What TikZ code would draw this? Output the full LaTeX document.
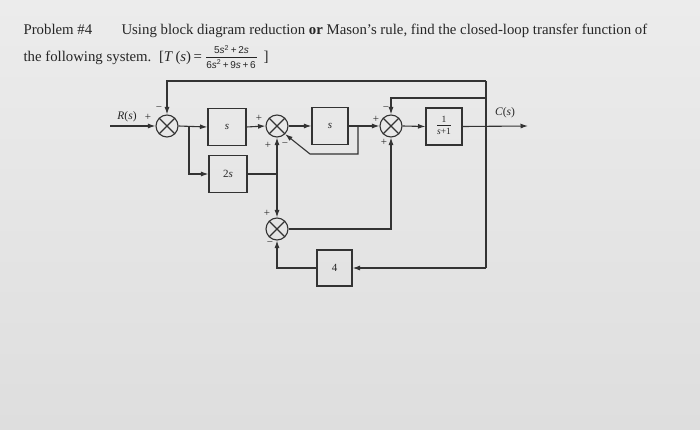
\documentclass[tikz,border=0pt]{standalone}
\usepackage{fontspec}
\setmainfont{Liberation Serif}
\newfontfamily\fracfont{Liberation Sans}
\usetikzlibrary{arrows.meta}
\definecolor{ink}{HTML}{333333}
\definecolor{txt}{HTML}{262626}
\begin{document}
\begin{tikzpicture}[x=1pt,y=-1pt,
  line width=1.1pt, draw=ink,
  arr/.style={-{Latex[length=7.5pt,width=5pt]}},
  sumnode/.style={circle, draw, line width=1.1pt, minimum size=22pt, inner sep=0pt,
    path picture={\draw[line width=1.1pt,ink] (path picture bounding box.north west)--(path picture bounding box.south east)
      (path picture bounding box.north east)--(path picture bounding box.south west);}},
  blk/.style={draw, line width=1.1pt, minimum width=38pt, minimum height=37pt, inner sep=0pt,
    font=\fontsize{11}{12}\selectfont, text=txt},
  sgn/.style={font=\fontsize{11}{11}\selectfont, inner sep=0pt, text=txt},
  lbl/.style={font=\fontsize{11.5}{12}\selectfont, inner sep=0pt, text=txt},
  title/.style={font=\fontsize{14.8}{16}\selectfont, inner sep=0pt, anchor=base west, text=txt},
  frc/.style={font=\fracfont\fontsize{10}{10}\selectfont, inner sep=0pt, text=txt}]
\shade[top color={rgb,255:red,236;green,236;blue,236}, bottom color={rgb,255:red,222;green,222;blue,222}]
  (0,0) rectangle (700,430);
\useasboundingbox (0,0) rectangle (700,430);

% title
\node[title] (p) at (23,35) {Problem \#4};
\node[title] (u) at (121,35) {Using block diagram reduction \textbf{or} Mason’s rule, find the closed-loop transfer function of};
\node[title] (l2) at (23,61.7) {the following system.};
\node[title] (l3) at (158.5,61.7) {[\textit{T}\,(\textit{s})\,=};
\node[frc] (num) at (231.5,49.5) {5\textit{s}\textsuperscript{2}\,+\,2\textit{s}};
\node[frc] (den) at (231,63.8) {6\textit{s}\textsuperscript{2}\,+\,9\textit{s}\,+\,6};
\draw[line width=0.7pt, txt] (206,57) -- (257,57);
\node[font=\fontsize{15}{15}\selectfont, inner sep=0pt, text=txt] (br) at (266,57.5) {]};

% summing junctions
\node[sumnode] (s1) at (167,126) {};
\node[sumnode] (s2) at (277,126) {};
\node[sumnode] (s3) at (391,126) {};
\node[sumnode] (s4) at (277,229) {};

% blocks
\node[blk] (b1) at (227,127) {\textit{s}};
\node[blk] (b2) at (228,174) {2\textit{s}};
\node[blk, minimum width=36pt] (b3) at (330,126) {\textit{s}};
\node[blk, minimum width=36pt] (b4) at (444,126.5) {\fontsize{9.5}{10}\selectfont\begin{tabular}{@{}c@{}}1\\[-1pt]\hline\rule{0pt}{9.5pt}\textit{s}+1\end{tabular}};
\node[blk, minimum width=35pt, minimum height=36pt] (b5) at (334.5,268) {4};

% points
\coordinate (in) at (110,126);
\coordinate (j1) at (189,126);
\coordinate (j2) at (277,174);
\coordinate (j3) at (358,126);
\coordinate (c1) at (358,154);
\coordinate (c2) at (310,154);
\coordinate (jo) at (486,126);
\coordinate (out) at (528,126);
\coordinate (tt) at (486,81);
\coordinate (t3) at (486,98);
\coordinate (bb) at (486,268);

% connectors
\draw[arr] (in) -- (s1.west);
\draw[arr] (s1.east) -- (b1.west);
\draw[arr] (j1) |- (b2.west);
\draw[arr] (b1.east) -- (s2.west);
\draw (b2.east) -- (j2);
\draw[arr] (j2) -- (s2.south);
\draw[arr] (j2) -- (s4.north);
\draw[arr] (s2.east) -- (b3.west);
\draw[arr] (b3.east) -- (s3.west);
\draw[arr] (j3) -- (c1) -- (c2) -- (s2.south east);
\draw[arr] (s3.east) -- (b4.west);
\draw[arr] (b4.east) -- (out);
\draw (tt) -- (bb);
\draw[arr] (tt) -| (s1.north);
\draw[arr] (t3) -| (s3.north);
\draw[arr] (bb) -- (b5.east);
\draw[arr] (b5.west) -| (s4.south);
\draw[arr] (s4.east) -| (s3.south);

% signs
\node[sgn] at (148,117) {+};
\node[sgn] at (159,109) {−};
\node[sgn] at (259,118) {+};
\node[sgn] at (268,145) {+};
\node[sgn] at (285,145) {−};
\node[sgn] at (376,119) {+};
\node[sgn] at (386,109) {−};
\node[sgn] at (384,142) {+};
\node[sgn] at (267,213) {+};
\node[sgn] at (270,244) {−};

% labels
\node[lbl] (R) at (127,117) {\textit{R}(\textit{s})};
\node[lbl] (C) at (505,113) {\textit{C}(\textit{s})};
\end{tikzpicture}
\end{document}
